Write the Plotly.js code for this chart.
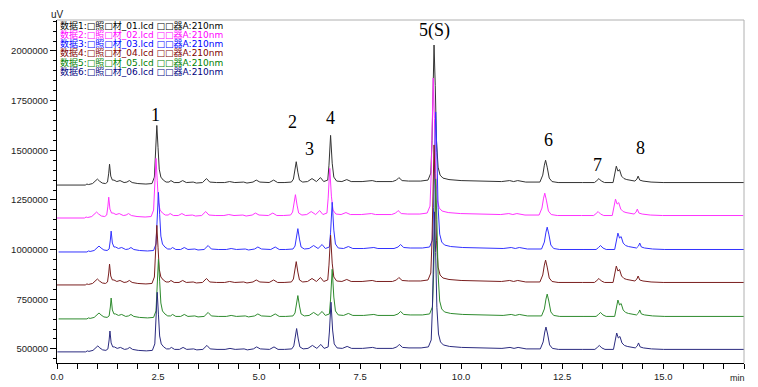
<!DOCTYPE html>
<html>
<head>
<meta charset="utf-8">
<script src="https://cdn.plot.ly/plotly-3.0.1.min.js"></script>
<style>html,body{margin:0;padding:0;background:#fff}#chart{width:758px;height:387px}</style>
</head>
<body>
<div id="chart"></div>
<script>
// retention time (min) of profile points
const rt = [0.00,0.70,0.74,0.78,0.88,0.95,1.00,1.05,1.12,1.20,1.25,1.28,1.30,1.33,1.37,1.41,1.48,1.56,1.66,1.73,1.79,1.86,2.00,2.20,2.35,2.41,2.44,2.47,2.50,2.53,2.57,2.63,2.70,2.77,2.82,2.90,3.02,3.11,3.20,3.30,3.37,3.45,3.60,3.70,3.78,3.95,4.15,4.27,4.40,4.62,4.70,4.85,4.93,5.02,5.25,5.36,5.46,5.62,5.80,5.85,5.89,5.92,5.96,6.00,6.08,6.20,6.31,6.42,6.52,6.60,6.70,6.73,6.77,6.81,6.85,6.92,7.05,7.17,7.28,7.55,7.80,7.90,8.30,8.40,8.46,8.54,8.70,9.00,9.18,9.25,9.28,9.30,9.33,9.36,9.39,9.43,9.48,9.55,9.70,10.0,10.5,11.0,11.2,11.3,11.4,11.6,11.95,12.02,12.06,12.09,12.13,12.18,12.25,12.4,13.0,13.30,13.36,13.41,13.47,13.55,13.76,13.80,13.84,13.88,13.92,13.97,14.03,14.10,14.20,14.30,14.35,14.38,14.42,14.50,14.70,15.0,17.0];
// detector signal above each trace's starting level (uV)
const signal = [0,0,5000,2500,7500,20000,30000,20000,10000,7500,15000,60000,105000,45000,25000,25000,17500,22500,12500,15000,22500,12500,7500,5000,7500,40000,175000,300000,190000,80000,40000,25000,15000,15000,22500,12500,12500,22500,12500,12500,15000,10000,12500,32500,15000,12500,12500,17500,12500,15000,10000,15000,25000,15000,12500,25000,12500,12500,15000,30000,80000,117500,65000,25000,15000,17500,32500,17500,37500,17500,25000,100000,250000,110000,40000,20000,17500,27500,17500,17500,22500,17500,17500,25000,37500,22500,20000,20000,25000,60000,225000,500000,705000,500000,225000,90000,50000,35000,27500,22500,20000,17500,22500,17500,22500,15000,15000,50000,100000,125000,90000,35000,17500,12500,12500,12500,22500,32500,20000,12500,12500,50000,95000,70000,77500,45000,32500,27500,22500,20000,30000,45000,25000,20000,15000,12500,12500];
// per-run starting level (uV) and retention shift (min)
const baselines = [1325000, 1159000, 988000, 822000, 651000, 485000];
const shifts = [0, -0.02, 0.04, 0, 0.04, 0.01];
const runNames = [
  "数据1:□照□材_01.lcd □□器A:210nm",
  "数据2:□照□材_02.lcd □□器A:210nm",
  "数据3:□照□材_03.lcd □□器A:210nm",
  "数据4:□照□材_04.lcd □□器A:210nm",
  "数据5:□照□材_05.lcd □□器A:210nm",
  "数据6:□照□材_06.lcd □□器A:210nm"
];
const peakLabels = ["1","2","3","4","5(S)","6","7","8"];
const yTicks = [500000, 750000, 1000000, 1250000, 1500000, 1750000, 2000000];
const xTicks = [0, 2.5, 5, 7.5, 10, 12.5, 15];

const lineColors = ["#333333","#ff33ff","#3333ff","#7a1f1f","#2e8b2e","#2b2b80"];
const textColors = ["#000000","#ff00ff","#0000ff","#800000","#008000","#000080"];
const labelPos = [[155,115],[292,122],[309,149],[330,118],[435,31],[548,140],[597,165],[640,148]];

const L = 57, R = 744, T = 20, B = 363;
const px = x => (x - L) / (R - L);
const py = y => (B - y) / (B - T);

const traces = runNames.map((n, i) => ({
  type: "scatter", mode: "lines", name: n,
  x: rt.map(t => t + shifts[i]),
  y: signal.map(v => v + baselines[i]),
  line: {color: lineColors[i], width: 1},
  hoverinfo: "skip"
}));

const annotations = [];
runNames.forEach((n, i) => annotations.push({
  xref: "paper", yref: "paper", x: px(58), y: py(25 + i * 9.3),
  xanchor: "left", yanchor: "middle", text: n, showarrow: false,
  font: {family: "DejaVu Sans, Noto Sans CJK SC, sans-serif", size: 9, color: textColors[i]}
}));
peakLabels.forEach((t, i) => annotations.push({
  xref: "paper", yref: "paper", x: px(labelPos[i][0]), y: py(labelPos[i][1]),
  xanchor: "center", yanchor: "middle", text: t, showarrow: false,
  font: {family: "Liberation Serif, serif", size: 18, color: "#000"}
}));
annotations.push({xref: "paper", yref: "paper", x: px(57), y: py(14), xanchor: "center", yanchor: "middle",
  text: "uV", showarrow: false, font: {family: "Liberation Sans, Arial", size: 10, color: "#222"}});
annotations.push({xref: "paper", yref: "paper", x: px(737), y: py(378), xanchor: "center", yanchor: "middle",
  text: "min", showarrow: false, font: {family: "Liberation Sans, Arial", size: 9, color: "#222"}});

const layout = {
  width: 758, height: 387,
  margin: {l: L, r: 758 - R, t: T, b: 387 - B},
  paper_bgcolor: "#fff", plot_bgcolor: "#fff",
  showlegend: false,
  xaxis: {
    range: [0, 17], tickvals: xTicks, ticktext: xTicks.map(v => v.toFixed(1)),
    ticks: "outside", ticklen: 5, tickcolor: "#000", showgrid: false, zeroline: false,
    showline: true, linecolor: "#000", linewidth: 1,
    minor: {dtick: 0.5, tick0: 0, ticks: "outside", ticklen: 5, tickcolor: "#000", showgrid: false},
    tickfont: {family: "Liberation Sans, Arial", size: 9.5, color: "#222"}
  },
  yaxis: {
    range: [429000, 2156000], tickvals: yTicks, ticktext: yTicks.map(v => String(v)),
    ticks: "outside", ticklen: 6, tickcolor: "#000", showgrid: false, zeroline: false,
    showline: true, linecolor: "#000", linewidth: 1,
    minor: {dtick: 50000, tick0: 0, ticks: "outside", ticklen: 3, tickcolor: "#000", showgrid: false},
    tickfont: {family: "Liberation Sans, Arial", size: 9.5, color: "#222"}
  },
  shapes: [
    {type: "line", xref: "paper", yref: "paper", x0: 0, x1: 1, y0: 1, y1: 1, line: {color: "#b0b0b0", width: 1}},
    {type: "line", xref: "paper", yref: "paper", x0: 1, x1: 1, y0: 0, y1: 1, line: {color: "#b0b0b0", width: 1}}
  ],
  annotations: annotations
};

Plotly.newPlot("chart", traces, layout, {displayModeBar: false, staticPlot: true});
</script>
</body>
</html>
